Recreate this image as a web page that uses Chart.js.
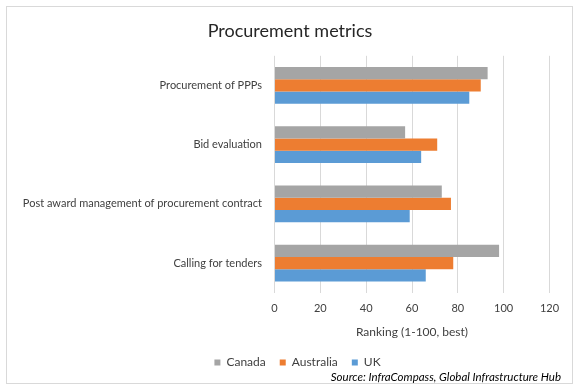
<!DOCTYPE html>
<html>
<head>
<meta charset="utf-8">
<script src="https://cdn.jsdelivr.net/npm/chart.js@4.4.0/dist/chart.umd.min.js"></script>
<style>
  html, body { margin: 0; padding: 0; background: #ffffff; }
  #wrap { width: 578px; height: 390px; position: relative; }
</style>
</head>
<body>
<div id="wrap"><canvas id="c" width="578" height="390"></canvas></div>
<script>
const categories = [
  "Procurement of PPPs",
  "Bid evaluation",
  "Post award management of procurement contract",
  "Calling for tenders"
];
const canadaValues = [93, 57, 73, 98];
const australiaValues = [90, 71, 77, 78];
const ukValues = [85, 64, 59, 66];
const seriesNames = ["Canada", "Australia", "UK"];
const xTickValues = [0, 20, 40, 60, 80, 100, 120];
const chartTitle = "Procurement metrics";
const xAxisTitle = "Ranking (1-100, best)";
const sourceText = "Source: InfraCompass, Global Infrastructure Hub";

const FONT = "Lato, 'Liberation Sans', sans-serif";
const TEXT = "#404040";

function centerBox(box, cx) {
  if (!box) return;
  const dx = cx - (box.left + box.right) / 2;
  box.left += dx; box.right += dx;
}

const framePlugin = {
  id: 'frame',
  afterLayout(chart) {
    centerBox(chart.legend, 297.5);
    centerBox(chart.titleBlock, 290);
  },
  beforeDraw(chart) {
    const ctx = chart.ctx;
    ctx.save();
    ctx.fillStyle = '#ffffff';
    ctx.fillRect(0, 0, chart.width, chart.height);
    ctx.strokeStyle = '#d9d9d9';
    ctx.lineWidth = 1;
    ctx.strokeRect(6.5, 6.5, 566, 377);
    ctx.restore();
  },
  afterDraw(chart) {
    const ctx = chart.ctx;
    ctx.save();
    ctx.font = "italic 11.5px " + FONT;
    ctx.fillStyle = '#000000';
    ctx.textAlign = 'right';
    ctx.textBaseline = 'middle';
    ctx.fillText(sourceText, 561, 377);
    ctx.restore();
  }
};

new Chart(document.getElementById('c'), {
  type: 'bar',
  data: {
    labels: categories,
    datasets: [
      { label: seriesNames[0], data: canadaValues, backgroundColor: '#a5a5a5' },
      { label: seriesNames[1], data: australiaValues, backgroundColor: '#ed7d31' },
      { label: seriesNames[2], data: ukValues, backgroundColor: '#5b9bd5' }
    ]
  },
  options: {
    indexAxis: 'y',
    responsive: false,
    animation: false,
    devicePixelRatio: 1,
    layout: { padding: { left: 8, right: 28.5, top: 0, bottom: 11.4 } },
    datasets: { bar: { categoryPercentage: 0.62, barPercentage: 1.0, borderWidth: 0 } },
    scales: {
      x: {
        min: 0, max: 120,
        afterBuildTicks(scale) { scale.ticks = xTickValues.map(v => ({ value: v })); },
        grid: { color: '#d9d9d9', drawTicks: false, lineWidth: 1 },
        border: { display: false },
        ticks: { padding: 9.4, color: TEXT, font: { family: FONT, size: 11 } },
        title: {
          display: true, text: xAxisTitle, color: TEXT,
          font: { family: FONT, size: 12 },
          padding: { top: 0.2, bottom: 3.2 }
        }
      },
      y: {
        grid: { display: false, drawTicks: false },
        border: { display: false },
        ticks: { padding: 12.5, color: TEXT, font: { family: FONT, size: 11 } },
        afterFit(scale) { scale.width = 266.5; }
      }
    },
    plugins: {
      title: {
        display: true, text: chartTitle, color: '#262626',
        font: { family: FONT, size: 18, weight: 'normal' },
        padding: { top: 20.6, bottom: 13.6 }
      },
      legend: {
        position: 'bottom',
        labels: {
          boxWidth: 6, boxHeight: 6, padding: 14, color: TEXT,
          font: { family: FONT, size: 12 }
        }
      },
      tooltip: { enabled: false }
    }
  },
  plugins: [framePlugin]
});
</script>
</body>
</html>
